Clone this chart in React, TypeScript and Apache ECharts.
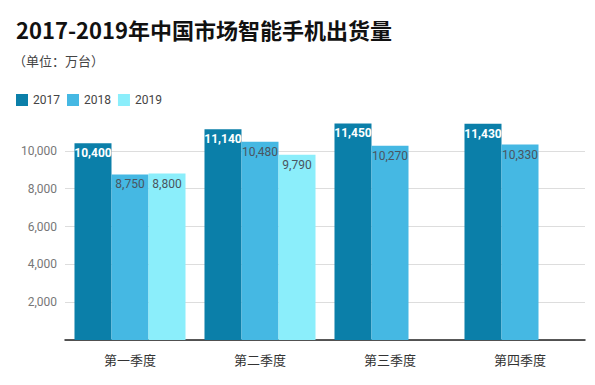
import React, { useEffect, useRef } from "react";
import * as echarts from "echarts";

const categories = ["第一季度", "第二季度", "第三季度", "第四季度"];
const s2017 = [10400, 11140, 11450, 11430];
const s2018 = [8750, 10480, 10270, 10330];
const s2019: (number | null)[] = [8800, 9790, null, null];
const seriesNames = ["2017", "2018", "2019"];
const colors = ["#0b7fa9", "#45b8e3", "#8beefb"];

export default function App() {
  const ref = useRef<HTMLDivElement>(null);
  useEffect(() => {
    const chart = echarts.init(ref.current!, null, { renderer: "svg" });
    const fmt = (p: any) => (p.value == null ? "" : Number(p.value).toLocaleString("en-US"));
    const mk = (name: string, data: (number | null)[], i: number) => ({
      name,
      type: "bar",
      data,
      barGap: "0%",
      barCategoryGap: "14.6%",
      itemStyle: { color: colors[i] },
      label: {
        show: true,
        position: "insideTop",
        distance: 4,
        formatter: fmt,
        fontFamily: "Roboto",
        fontSize: 12,
        color: i === 0 ? "#ffffff" : "#4a5560",
        fontWeight: i === 0 ? "bold" : "normal",
      },
    });
    chart.setOption({
      animation: false,
      backgroundColor: "#ffffff",
      color: colors,
      title: [
        {
          text: "2017-2019年中国市场智能手机出货量",
          left: 11,
          top: 13,
          textStyle: { fontFamily: "Noto Sans CJK SC", fontWeight: "bold", fontSize: 22, color: "#111" },
        },
        {
          text: "（单位：万台）",
          left: 8,
          top: 49,
          textStyle: { fontFamily: "Noto Sans CJK SC", fontWeight: "normal", fontSize: 13, color: "#444" },
        },
      ],
      legend: {
        left: 11,
        top: 89,
        icon: "rect",
        itemWidth: 12,
        itemHeight: 12,
        itemGap: 7,
        textStyle: { fontFamily: "Roboto", fontSize: 12, color: "#444" },
        data: seriesNames,
      },
      grid: { left: 65, right: 10, top: 113, bottom: 45 },
      xAxis: {
        type: "category",
        data: categories,
        axisLine: { lineStyle: { color: "#222", width: 1.5 } },
        axisTick: { show: false },
        axisLabel: { fontFamily: "Noto Sans CJK SC", fontSize: 13, color: "#333", margin: 13 },
      },
      yAxis: {
        type: "value",
        min: 0,
        max: 12000,
        interval: 2000,
        axisLine: { show: false },
        axisTick: { show: false },
        axisLabel: {
          showMinLabel: false,
          showMaxLabel: false,
          fontFamily: "Roboto",
          fontSize: 12,
          color: "#777",
          margin: 8,
          formatter: (v: number) => v.toLocaleString("en-US"),
        },
        splitLine: {
          lineStyle: { color: ["#dddddd", "#dddddd", "#dddddd", "#dddddd", "#dddddd", "#dddddd", "rgba(0,0,0,0)"] },
        },
      },
      series: [mk("2017", s2017, 0), mk("2018", s2018, 1), mk("2019", s2019, 2)],
    });
    return () => chart.dispose();
  }, []);
  return <div ref={ref} style={{ width: 595, height: 385, position: "absolute", left: 0, top: 0 }} />;
}
